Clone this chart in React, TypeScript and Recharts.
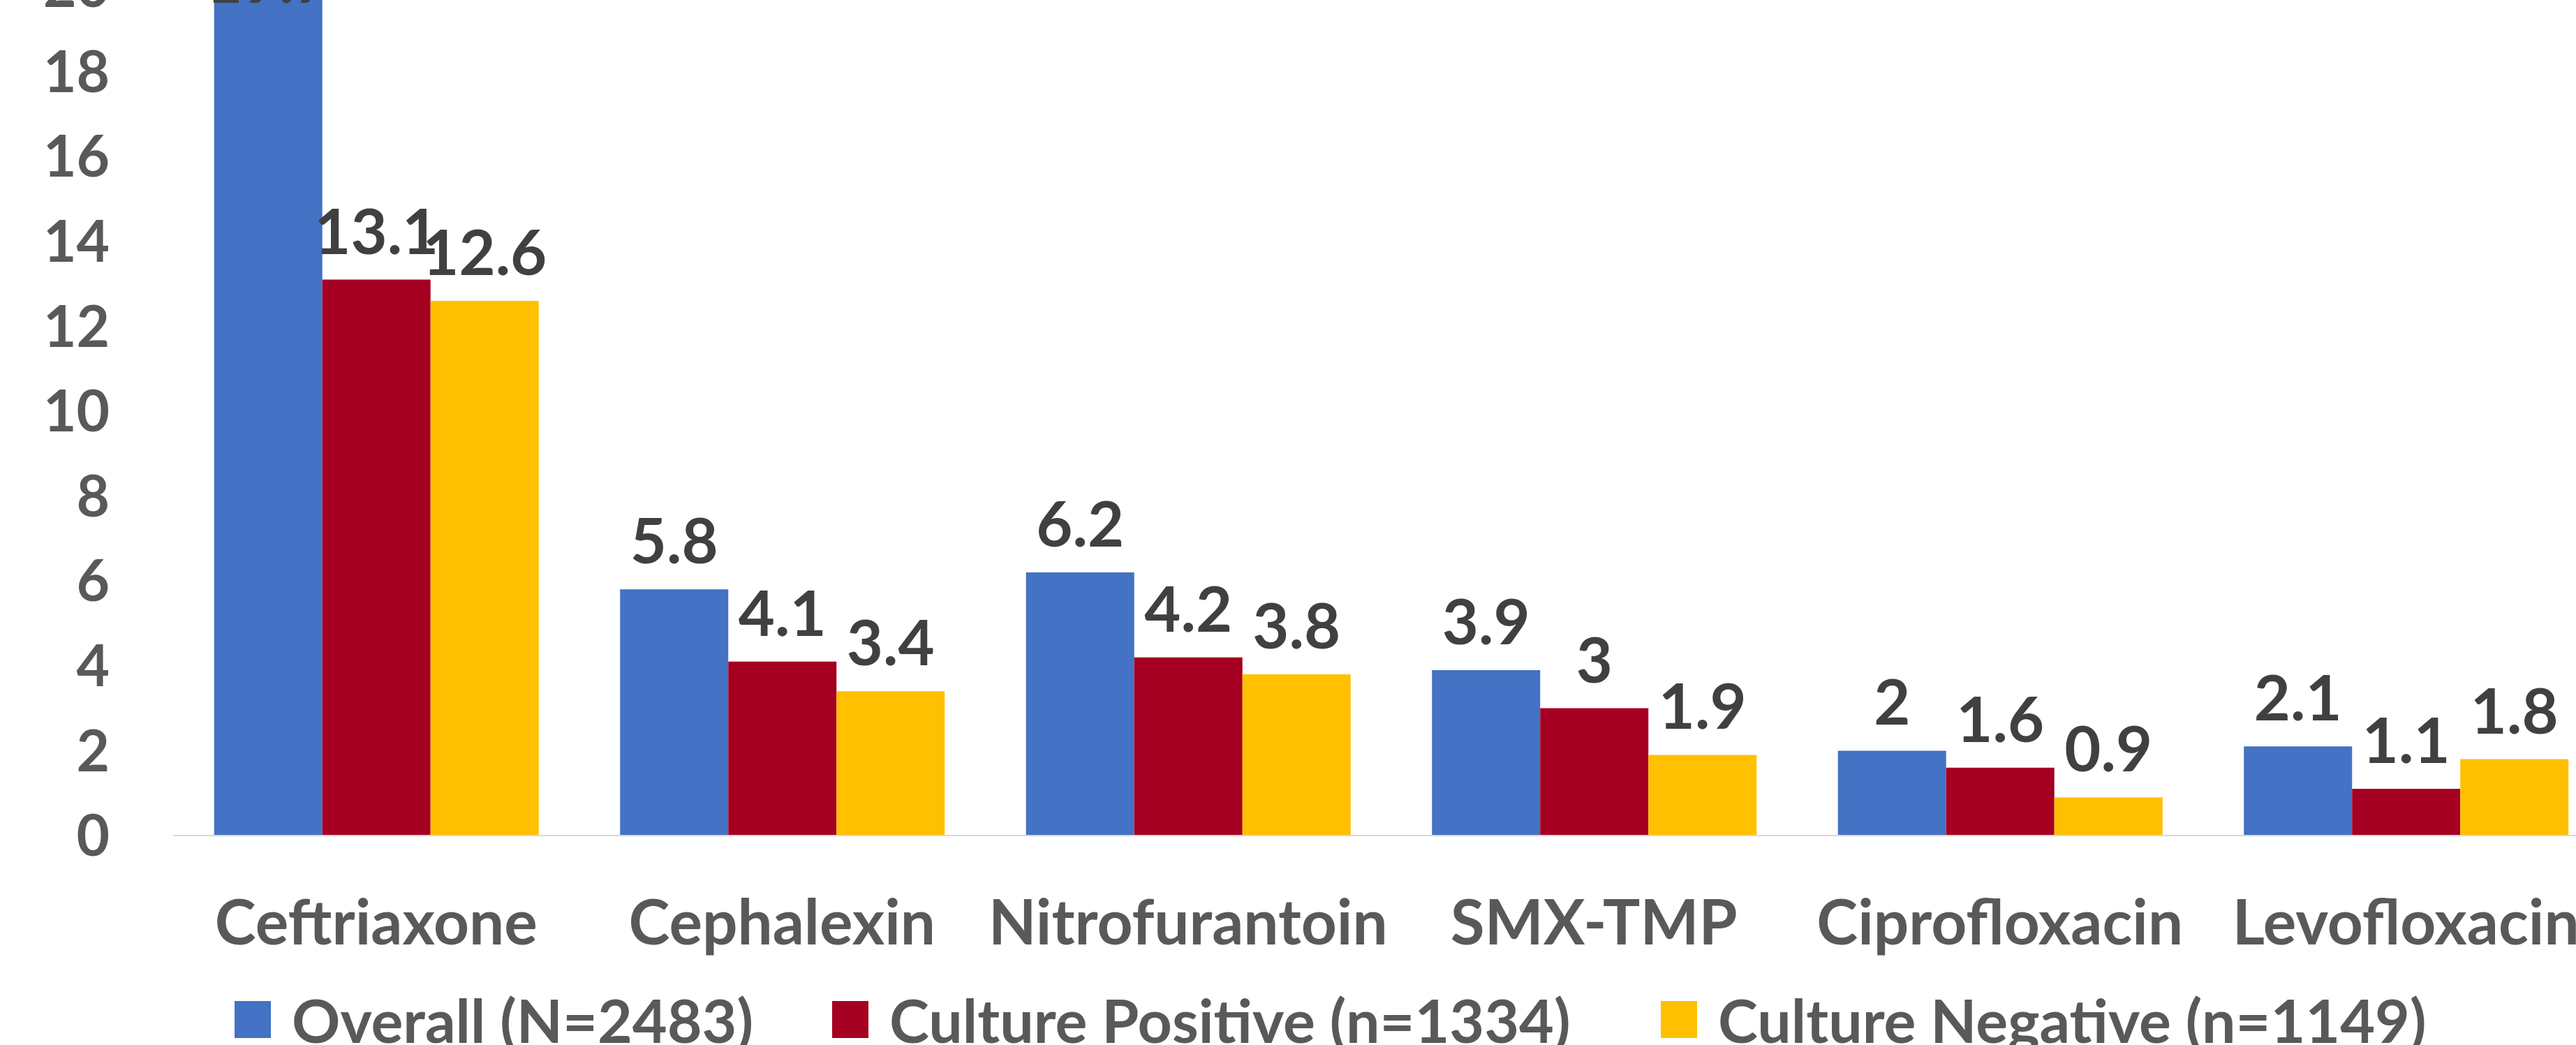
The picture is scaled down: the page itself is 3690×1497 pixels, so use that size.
import { BarChart, Bar, XAxis, YAxis, LabelList } from 'recharts';

const drugs = ['Ceftriaxone', 'Cephalexin', 'Nitrofurantoin', 'SMX-TMP', 'Ciprofloxacin', 'Levofloxacin'];
const overall = [19.7, 5.8, 6.2, 3.9, 2, 2.1];
const culturePositive = [13.1, 4.1, 4.2, 3, 1.6, 1.1];
const cultureNegative = [12.6, 3.4, 3.8, 1.9, 0.9, 1.8];
const yTicks = [0, 2, 4, 6, 8, 10, 12, 14, 16, 18, 20];

const seriesNames = ['Overall (N=2483)', 'Culture Positive (n=1334)', 'Culture Negative (n=1149)'];
const seriesKeys = ['overall', 'positive', 'negative'];
const COLORS = ['#4472C4', '#A50021', '#FFC000'];

const data = drugs.map((name, i) => ({
  name,
  overall: overall[i],
  positive: culturePositive[i],
  negative: cultureNegative[i],
}));

const FONT = 'Lato, "Open Sans", sans-serif';
const CHART_SHIFT = 100; // chart is drawn partly above the visible frame
const legendX = [336, 1192, 2379];

// labels can't go above the chart area, like the original (pushed down onto the bar)
function renderValueLabel(props: any) {
  const { x, y, width, value } = props;
  const baseline = Math.max(y - 37, CHART_SHIFT + 4);
  return (
    <text
      x={x + width / 2}
      y={baseline}
      textAnchor="middle"
      fill="#404040"
      fontFamily={FONT}
      fontWeight={700}
      fontSize={90}
    >
      {value}
    </text>
  );
}

export default function App() {
  return (
    <div
      style={{
        position: 'absolute',
        left: 0,
        top: 0,
        width: 3690,
        height: 1497,
        overflow: 'hidden',
        background: '#fff',
      }}
    >
      <div style={{ position: 'absolute', left: 0, top: -CHART_SHIFT }}>
        <BarChart
          width={3737}
          height={1497}
          data={data}
          margin={{ top: 81, right: 0, bottom: 0, left: 0 }}
          barCategoryGap="10.1%"
          barGap={0}
        >
          <XAxis
            dataKey="name"
            interval={0}
            height={200}
            tickLine={false}
            tickSize={0}
            tickMargin={93}
            axisLine={{ stroke: '#D9D9D9', strokeWidth: 2 }}
            tick={{ fill: '#595959', fontSize: 89, fontWeight: 700, fontFamily: FONT }}
          />
          <YAxis
            width={248}
            domain={[0, 20]}
            ticks={yTicks}
            axisLine={false}
            tickLine={false}
            tickSize={0}
            tickMargin={91}
            tick={{ fill: '#595959', fontSize: 82, fontWeight: 700, fontFamily: FONT }}
          />
          {seriesKeys.map((key, i) => (
            <Bar key={key} dataKey={key} name={seriesNames[i]} fill={COLORS[i]} isAnimationActive={false}>
              <LabelList dataKey={key} content={renderValueLabel} />
            </Bar>
          ))}
        </BarChart>
      </div>

      {/* Legend */}
      {seriesNames.map((name, i) => (
        <div
          key={name}
          style={{
            position: 'absolute',
            left: legendX[i],
            top: 1400,
            height: 120,
            display: 'flex',
            alignItems: 'center',
            fontFamily: FONT,
            fontWeight: 700,
            fontSize: 86,
            color: '#595959',
            whiteSpace: 'nowrap',
          }}
        >
          <div style={{ width: 52, height: 53, background: COLORS[i], marginRight: 30 }} />
          <span>{name}</span>
        </div>
      ))}
    </div>
  );
}
